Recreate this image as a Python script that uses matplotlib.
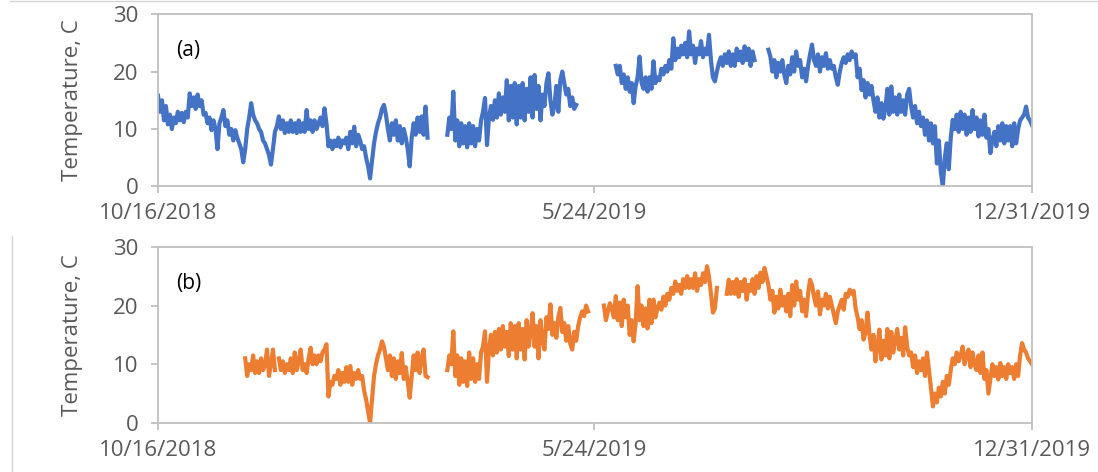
import numpy as np
import pandas as pd
import matplotlib
matplotlib.use("Agg")
import matplotlib.pyplot as plt
from matplotlib.lines import Line2D

plt.rcParams['font.family'] = ['Open Sans', 'DejaVu Sans']

#----------------------------------------------------------------------------------------------------
# daily water temperature, 10/16/2018 -> 12/31/2019 (None = logger gap)
#----------------------------------------------------------------------------------------------------
start = '2018-10-16'
tick_dates = ['2018-10-16', '2019-05-24', '2019-12-31']
tick_labels = ['10/16/2018', '5/24/2019', '12/31/2019']
ylabel = 'Temperature, C'
panel_tags = ['(a)', '(b)']

temp_a = [
    15.8, 13.0, 15.0, 11.5, 14.0, 10.8, 12.5, 10.0, 12.0, 11.0,
    13.0, 11.5, 12.8, 11.2, 13.0, 12.0, 16.2, 14.0, 15.5, 13.5,
    16.0, 14.0, 15.0, 12.5, 12.8, 11.0, 12.0, 9.8, 11.5, 10.0,
    6.5, 11.0, 12.0, 13.3, 10.5, 11.5, 9.0, 10.0, 8.0, 9.8,
    8.5, 7.5, 6.5, 4.2, 6.5, 10.0, 12.0, 14.5, 12.5, 11.5,
    11.0, 10.0, 9.5, 8.0, 7.5, 6.5, 5.5, 3.8, 6.5, 9.5,
    10.5, 12.2, 10.0, 11.5, 9.3, 11.0, 9.5, 11.5, 9.5, 11.0,
    9.3, 11.5, 9.5, 11.0, 9.5, 13.3, 10.0, 11.5, 9.5, 11.5,
    10.0, 11.0, 12.0, 10.5, 13.6, 11.0, 7.0, 8.0, 6.5, 8.0,
    7.0, 8.5, 6.8, 8.0, 7.5, 8.5, 6.5, 9.5, 7.5, 10.4,
    7.0, 9.0, 8.0, 6.5, 7.0, 5.0, 3.5, 1.4, 4.5, 7.5,
    9.5, 11.0, 12.0, 13.5, 14.2, 12.5, 10.0, 8.0, 11.0, 9.0,
    11.5, 8.0, 10.5, 7.5, 10.0, 8.5, 6.5, 3.5, 8.5, 11.0,
    9.0, 12.0, 9.5, 12.2, 9.0, 13.9, 8.5, None, None, None,
    None, None, None, None, None, None, 9.0, 12.0, 10.0, 16.5,
    8.0, 11.5, 7.0, 11.0, 7.5, 10.5, 6.8, 11.0, 7.5, 10.5,
    7.0, 10.0, 8.0, 11.5, 13.0, 15.4, 7.2, 12.0, 14.0, 11.6,
    15.0, 12.0, 16.2, 12.5, 15.5, 13.0, 18.5, 11.5, 17.5, 12.0,
    18.0, 10.8, 17.5, 12.0, 18.0, 11.5, 17.0, 13.0, 19.0, 12.0,
    19.4, 13.5, 17.5, 11.5, 16.0, 14.0, 18.0, 19.7, 15.0, 12.5,
    14.0, 17.5, 13.0, 18.5, 20.0, 18.0, 16.0, 17.0, 14.0, 15.5,
    13.5, 14.2, None, None, None, None, None, None, None, None,
    None, None, None, None, None, None, None, None, None, None,
    None, 21.0, 19.5, 21.0, 18.0, 19.5, 17.0, 19.0, 16.5, 18.0,
    14.5, 17.5, 19.0, 22.6, 18.0, 17.0, 19.0, 16.5, 19.0, 17.0,
    21.8, 18.0, 19.0, 18.5, 20.5, 19.5, 21.0, 20.0, 22.0, 20.5,
    25.8, 22.0, 24.0, 22.5, 24.5, 23.0, 25.0, 22.5, 27.0, 23.0,
    24.5, 21.5, 24.0, 23.0, 25.3, 22.5, 24.0, 23.0, 26.4, 22.0,
    19.0, 18.3, 20.0, 21.5, 22.5, 21.0, 23.0, 21.5, 23.5, 21.0,
    23.0, 21.0, 24.0, 22.0, 23.5, 21.5, 24.4, 22.0, 24.0, 21.0,
    23.5, 22.0, None, None, None, None, None, None, 23.8, 22.6,
    20.0, 22.0, 19.0, 21.5, 20.0, 22.0, 19.5, 18.0, 21.0, 19.5,
    22.5, 20.0, 23.5, 21.0, 22.0, 19.0, 20.5, 18.3, 21.0, 23.0,
    24.7, 22.0, 21.0, 23.0, 20.0, 22.5, 21.0, 23.2, 20.5, 22.0,
    20.5, 21.0, 19.0, 17.7, 20.0, 21.5, 22.5, 21.5, 23.0, 22.0,
    23.5, 22.5, 23.0, 19.0, 20.5, 16.8, 18.5, 15.5, 18.0, 16.0,
    17.5, 15.0, 13.0, 15.5, 12.0, 14.5, 11.8, 13.5, 17.0, 12.5,
    17.4, 13.0, 15.5, 12.5, 16.0, 13.0, 15.0, 12.5, 16.0, 17.0,
    14.0, 12.0, 14.0, 11.0, 13.0, 10.5, 12.0, 9.0, 11.5, 8.0,
    11.0, 7.5, 10.5, 4.0, 8.0, 2.5, 0.0, 5.0, 7.5, 3.0,
    8.5, 11.6, 10.0, 12.5, 9.5, 13.0, 10.0, 12.5, 9.0, 12.0,
    9.5, 13.3, 10.0, 12.0, 8.7, 11.5, 9.0, 12.5, 8.5, 10.0,
    5.8, 8.0, 9.5, 7.0, 10.5, 8.0, 11.0, 7.5, 10.5, 8.0,
    10.5, 7.0, 11.0, 7.5, 10.0, 11.5, 12.0, 12.5, 13.9, 12.0,
    11.5, 10.7,
]

temp_b = [
    None, None, None, None, None, None, None, None, None, None,
    None, None, None, None, None, None, None, None, None, None,
    None, None, None, None, None, None, None, None, None, None,
    None, None, None, None, None, None, None, None, None, None,
    None, None, None, None, 11.0, 8.0, 10.0, 9.0, 11.5, 8.5,
    10.5, 8.5, 11.0, 9.0, 10.0, 12.5, 8.0, 10.0, 12.5, 9.0,
    None, 11.0, 9.0, 10.5, 8.5, 10.0, 9.0, 11.0, 8.5, 12.0,
    9.0, 10.5, 12.5, 9.0, 10.0, 8.5, 11.0, 12.8, 10.0, 11.5,
    10.0, 11.5, 10.5, 12.0, 12.5, 13.4, 4.5, 7.0, 6.5, 8.0,
    7.5, 9.0, 6.5, 8.5, 7.0, 9.5, 7.0, 9.7, 6.5, 8.5,
    7.5, 9.0, 7.5, 8.0, 5.5, 4.0, 2.0, 0.0, 4.0, 8.0,
    10.0, 11.5, 12.5, 13.9, 13.0, 11.0, 9.0, 11.5, 8.0, 11.0,
    7.5, 10.5, 8.5, 11.9, 7.5, 9.5, 7.0, 4.3, 8.0, 11.5,
    9.0, 12.0, 8.5, 11.0, 12.5, 8.0, 7.8, None, None, None,
    None, None, None, None, None, None, 9.0, 11.5, 10.0, 15.6,
    8.0, 11.5, 6.5, 11.0, 7.0, 10.5, 6.3, 12.0, 7.5, 11.0,
    7.0, 10.0, 7.5, 12.0, 13.0, 15.6, 7.0, 12.5, 15.0, 11.5,
    15.5, 12.0, 16.0, 12.5, 16.5, 13.0, 15.5, 11.4, 17.0, 12.5,
    16.5, 11.0, 17.0, 12.5, 16.0, 10.8, 17.5, 13.0, 15.5, 18.7,
    13.0, 16.5, 11.0, 17.5, 14.0, 12.5, 18.0, 16.0, 20.2, 15.0,
    17.0, 14.5, 18.0, 19.6, 15.5, 17.0, 14.0, 16.5, 13.5, 12.5,
    15.5, 14.0, 16.5, 18.0, 19.0, 18.2, 20.0, 19.0, None, None,
    None, None, None, None, None, 20.0, 17.5, 19.0, 20.4, 19.5,
    18.0, 21.6, 17.5, 20.5, 16.5, 21.0, 18.0, 20.0, 15.0, 17.5,
    13.9, 17.0, 23.3, 17.5, 20.0, 16.5, 19.5, 16.1, 21.0, 17.0,
    21.0, 18.0, 19.5, 20.5, 19.3, 21.5, 20.0, 22.0, 21.0, 23.0,
    22.0, 24.1, 22.5, 23.5, 22.0, 24.5, 23.0, 25.0, 23.0, 24.5,
    23.0, 25.5, 22.5, 24.5, 23.5, 25.5, 24.0, 26.7, 25.0, 22.0,
    18.8, 19.5, 23.0, None, None, None, None, 22.0, 24.4, 22.0,
    24.0, 22.0, 24.5, 21.5, 24.0, 22.5, 24.5, 21.0, 23.5, 22.5,
    24.5, 22.0, 25.0, 23.0, 25.6, 24.0, 26.4, 25.0, 23.5, 21.0,
    22.5, 18.8, 21.5, 19.5, 22.7, 20.0, 21.5, 19.0, 22.0, 18.2,
    23.5, 20.0, 24.1, 21.0, 22.5, 19.0, 21.0, 18.2, 22.0, 24.4,
    23.5, 21.5, 20.0, 22.4, 18.5, 21.0, 20.0, 22.0, 19.5, 21.5,
    20.0, 18.5, 17.0, 19.0, 20.0, 21.0, 19.3, 22.0, 21.5, 22.7,
    22.0, 22.5, 19.5, 18.0, 16.0, 17.5, 14.2, 15.5, 18.8, 15.0,
    12.5, 15.0, 10.5, 13.0, 15.9, 10.8, 14.0, 11.5, 16.0, 11.0,
    15.5, 12.0, 14.0, 16.0, 12.5, 14.5, 11.5, 16.3, 13.0, 11.5,
    12.0, 9.5, 11.5, 8.5, 10.5, 9.0, 11.0, 8.0, 12.0, 9.0,
    6.0, 2.8, 5.0, 3.5, 6.0, 4.5, 7.0, 5.0, 8.0, 6.5,
    9.0, 11.0, 10.0, 12.0, 10.5, 11.5, 13.0, 10.0, 11.5, 12.5,
    9.5, 12.0, 10.0, 9.0, 11.5, 8.5, 12.0, 7.5, 9.0, 5.0,
    7.5, 10.0, 8.0, 9.5, 7.4, 10.2, 8.0, 9.5, 7.5, 10.0,
    8.5, 9.5, 7.5, 10.0, 8.0, 11.5, 13.6, 12.5, 12.0, 11.0,
    10.5, 10.0,
]

series = [np.array(temp_a, dtype=float), np.array(temp_b, dtype=float)]
colors = ['#4472C4', '#ED7D31']
dates = [pd.date_range(start, periods=len(s), freq='D') for s in series]

#----------------------------------------------------------------------------------------------------
# plot
#----------------------------------------------------------------------------------------------------
fig = plt.figure(figsize=(10.98, 4.72), dpi=100)
boxes = [[0.1439, 0.605, 0.796, 0.365], [0.1439, 0.104, 0.796, 0.373]]
frame = '#BFBFBF'
txt = '#595959'

for box, d, s, c, tag in zip(boxes, dates, series, colors, panel_tags):
    ax = fig.add_axes(box)
    ax.plot(d, s, color=c, lw=3.0, solid_joinstyle='round')
    ax.set_xlim(pd.Timestamp(tick_dates[0]), pd.Timestamp(tick_dates[-1]))
    ax.set_ylim(0, 30)
    ax.set_yticks([0, 10, 20, 30])
    ax.set_xticks(pd.to_datetime(tick_dates))
    ax.set_xticklabels(tick_labels)
    for sp in ax.spines.values():
        sp.set_color(frame)
        sp.set_linewidth(1.3)
    ax.tick_params(axis='x', colors=frame, labelcolor=txt, labelsize=16,
                   length=5, width=1.3, pad=7)
    ax.tick_params(axis='y', colors=frame, labelcolor=txt, labelsize=16,
                   length=5, width=1.3, pad=9)
    ax.set_ylabel(ylabel, color=txt, fontsize=16, labelpad=22)
    ax.text(0.035, 0.79, tag, transform=ax.transAxes, fontsize=15,
            ha='center', va='center', color='black')

# thin page borders around the figure panels
fig.add_artist(Line2D([0.009, 1.0], [0.998, 0.998], color='#D4D4D4', lw=1))
fig.add_artist(Line2D([0.011, 0.011], [0.0, 0.5], color='#D4D4D4', lw=1))

plt.savefig('out.png', dpi=100)
